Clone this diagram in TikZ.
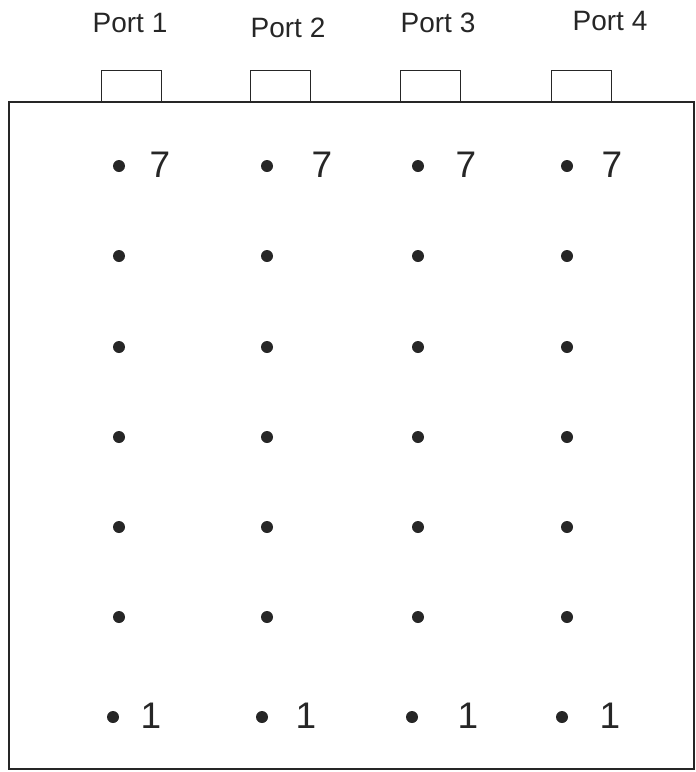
\documentclass[tikz,border=0pt]{standalone}
\usepackage{fontspec}
\setmainfont{Liberation Sans}
\usetikzlibrary{positioning}

\begin{document}
\begin{tikzpicture}[
            x=1pt, y=-1pt,
            casing/.style={
                    draw=black!85,
                    line width=1.6pt
                },
            portbox/.style={
                    draw=black!85,
                    fill=white,
                    rectangle,
                    line width=1.4pt,
                    minimum width=60pt,
                    minimum height=31pt,
                    inner sep=0pt,
                    anchor=south west
                },
            portLabel/.style={
                    font=\fontsize{28}{30}\selectfont,
                    color=black!85,
                    inner sep=0pt
                },
            pin/.style={
                    circle,
                    fill=black!85,
                    minimum size=12pt,
                    inner sep=0pt
                },
            pinLabel/.style={
                    font=\fontsize{37}{40}\selectfont,
                    color=black!85,
                    inner sep=0pt
                }
            ]
            \useasboundingbox (0,0) rectangle (696,772);

            % Gehaeuse
            \draw[casing] (9,102) rectangle (694,769);

            % Ports oben
            \node[portbox] (port1) at (101,102) {};
            \node[portbox] (port2) at (250,102) {};
            \node[portbox] (port3) at (400,102) {};
            \node[portbox] (port4) at (551,102) {};

            % Beschriftung der Ports
            \node[portLabel] (port1Label) at (130,23) {Port 1};
            \node[portLabel] (port2Label) at (288,28) {Port 2};
            \node[portLabel] (port3Label) at (438,23) {Port 3};
            \node[portLabel] (port4Label) at (610,21) {Port 4};

            % Pins 7 bis 2
            \foreach \col/\px in {1/119,2/267,3/418,4/567}{
                    \foreach \row/\py in {7/166,6/256,5/347,4/437,3/527,2/617}{
                            \node[pin] (pin\col-\row) at (\px,\py) {};
                        }
                }

            % Pins 1
            \foreach \col/\px in {1/113,2/262,3/412,4/562}{
                    \node[pin] (pin\col-1) at (\px,717) {};
                }

            % Nummern der Pins
            \foreach \col/\lx in {1/160,2/322,3/466,4/612}{
                    \node[pinLabel] (top\col) at (\lx,165) {7};
                }
            \foreach \col/\lx in {1/151,2/306,3/468,4/610}{
                    \node[pinLabel] (bot\col) at (\lx,716) {1};
                }

        \end{tikzpicture}
\end{document}
